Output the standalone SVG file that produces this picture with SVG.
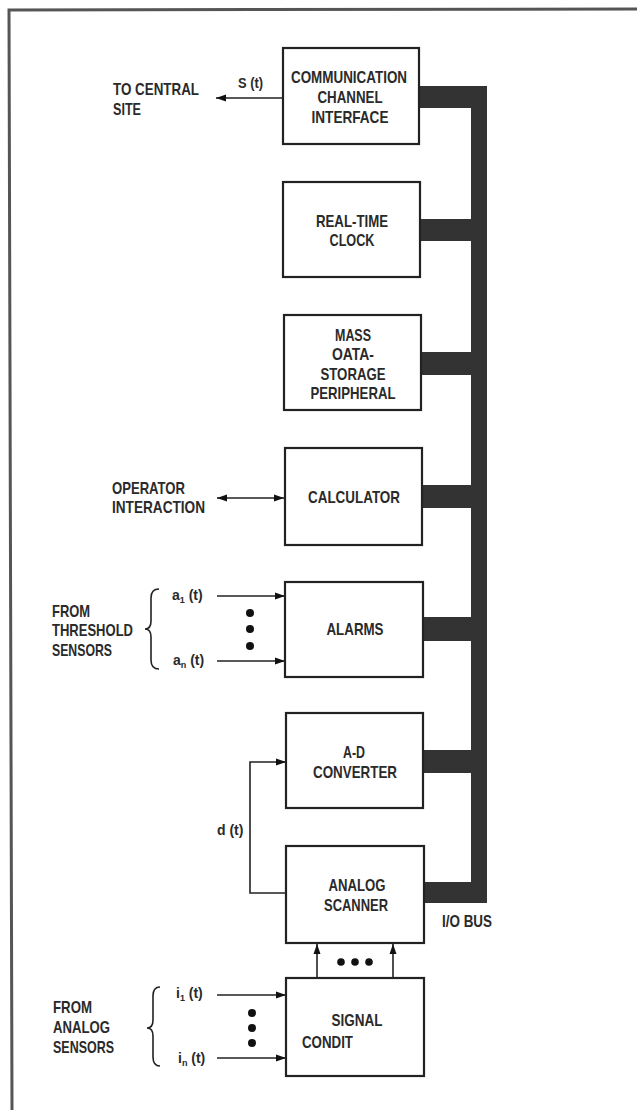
<svg xmlns="http://www.w3.org/2000/svg" width="637" height="1110" viewBox="0 0 637 1110">
<style>
.box{fill:#fff;stroke:#222;stroke-width:2.2}
.t{font-family:"Liberation Sans",Arial,sans-serif;font-size:17px;font-weight:bold;fill:#2a2a2a;text-anchor:middle}
.l{font-family:"Liberation Sans",Arial,sans-serif;font-size:17px;font-weight:bold;fill:#2a2a2a}
.s{font-family:"Liberation Sans",Arial,sans-serif;font-size:14px;font-weight:bold;fill:#2a2a2a}
.sub{font-size:9px}
.ln{fill:none;stroke:#222;stroke-width:1.6}
.bus{fill:#333}
.dot{fill:#111}
</style>
<defs>
<marker id="ah" viewBox="0 0 10 10" refX="10" refY="5" markerWidth="10" markerHeight="10" markerUnits="userSpaceOnUse" orient="auto-start-reverse">
<path d="M0,1.5 L10,5 L0,8.5 Z" fill="#111"/>
</marker>
</defs>
<path d="M12 1110 L9 10 L637 9" fill="none" stroke="#555" stroke-width="3"/>

<g id="bus">
<rect class="bus" x="471" y="86" width="16" height="817"/>
<rect class="bus" x="419" y="86" width="60" height="22"/>
<rect class="bus" x="420" y="219" width="60" height="22"/>
<rect class="bus" x="421" y="352" width="60" height="23"/>
<rect class="bus" x="422" y="485" width="60" height="23"/>
<rect class="bus" x="423" y="617" width="60" height="24"/>
<rect class="bus" x="423" y="750" width="60" height="23"/>
<rect class="bus" x="424" y="882" width="60" height="21"/>
<text class="l" x="442" y="927" textLength="50" lengthAdjust="spacingAndGlyphs">I/O BUS</text>
</g>

<g id="connectors">
<line class="ln" x1="283" y1="98" x2="216" y2="98" marker-end="url(#ah)"/>
<text class="s" x="238" y="88" textLength="25" lengthAdjust="spacingAndGlyphs">S (t)</text>
<line class="ln" x1="217" y1="498" x2="284" y2="498" marker-start="url(#ah)" marker-end="url(#ah)"/>
<line class="ln" x1="217" y1="596" x2="285" y2="596" marker-end="url(#ah)"/>
<line class="ln" x1="217" y1="661" x2="285" y2="661" marker-end="url(#ah)"/>
<path class="ln" d="M286 893 L250 893 L250 762 L286 762" marker-end="url(#ah)"/>
<text class="s" x="217" y="835">d (t)</text>
<line class="ln" x1="317" y1="978" x2="317" y2="944" marker-end="url(#ah)"/>
<line class="ln" x1="393" y1="978" x2="393" y2="944" marker-end="url(#ah)"/>
<line class="ln" x1="217" y1="995" x2="286" y2="995" marker-end="url(#ah)"/>
<line class="ln" x1="217" y1="1058" x2="286" y2="1058" marker-end="url(#ah)"/>
</g>

<g id="central-site">
<text class="l" x="113" y="95" textLength="86" lengthAdjust="spacingAndGlyphs">TO CENTRAL</text>
<text class="l" x="113" y="115" textLength="28" lengthAdjust="spacingAndGlyphs">SITE</text>
</g>

<g id="comm">
<rect class="box" x="283" y="48" width="136" height="96"/>
<text class="t" x="349" y="83" textLength="116" lengthAdjust="spacingAndGlyphs">COMMUNICATION</text>
<text class="t" x="350" y="103" textLength="65" lengthAdjust="spacingAndGlyphs">CHANNEL</text>
<text class="t" x="350" y="123" textLength="77" lengthAdjust="spacingAndGlyphs">INTERFACE</text>
</g>

<g id="clock">
<rect class="box" x="283" y="182" width="137" height="95"/>
<text class="t" x="352" y="227" textLength="72" lengthAdjust="spacingAndGlyphs">REAL-TIME</text>
<text class="t" x="352" y="246" textLength="45" lengthAdjust="spacingAndGlyphs">CLOCK</text>
</g>

<g id="mass">
<rect class="box" x="284" y="315" width="137" height="95"/>
<text class="t" x="353" y="341" textLength="36" lengthAdjust="spacingAndGlyphs">MASS</text>
<text class="t" x="353" y="360" textLength="42" lengthAdjust="spacingAndGlyphs">OATA-</text>
<text class="t" x="353" y="380" textLength="65" lengthAdjust="spacingAndGlyphs">STORAGE</text>
<text class="t" x="353" y="399" textLength="85" lengthAdjust="spacingAndGlyphs">PERIPHERAL</text>
</g>

<g id="operator">
<text class="l" x="112" y="494" textLength="73" lengthAdjust="spacingAndGlyphs">OPERATOR</text>
<text class="l" x="112" y="513" textLength="93" lengthAdjust="spacingAndGlyphs">INTERACTION</text>
</g>

<g id="calculator">
<rect class="box" x="285" y="448" width="137" height="97"/>
<text class="t" x="354" y="503" textLength="92" lengthAdjust="spacingAndGlyphs">CALCULATOR</text>
</g>

<g id="threshold">
<text class="l" x="52" y="617" textLength="38" lengthAdjust="spacingAndGlyphs">FROM</text>
<text class="l" x="52" y="636" textLength="81" lengthAdjust="spacingAndGlyphs">THRESHOLD</text>
<text class="l" x="52" y="656" textLength="60" lengthAdjust="spacingAndGlyphs">SENSORS</text>
<path class="ln" d="M159 589 Q151 589 151 598 L151 621 Q151 629 145 629 Q151 629 151 637 L151 660 Q151 669 159 669" stroke-width="2"/>
<text class="s" x="172" y="600">a<tspan class="sub" dy="3">1</tspan><tspan dy="-3"> (t)</tspan></text>
<text class="s" x="173" y="665">a<tspan class="sub" dy="3">n</tspan><tspan dy="-3"> (t)</tspan></text>
<circle class="dot" cx="250" cy="613" r="4"/>
<circle class="dot" cx="250" cy="629" r="4"/>
<circle class="dot" cx="250" cy="646" r="4"/>
</g>

<g id="alarms">
<rect class="box" x="285" y="582" width="138" height="95"/>
<text class="t" x="355" y="635" textLength="57" lengthAdjust="spacingAndGlyphs">ALARMS</text>
</g>

<g id="adc">
<rect class="box" x="286" y="713" width="137" height="95"/>
<text class="t" x="354" y="758" textLength="22" lengthAdjust="spacingAndGlyphs">A-D</text>
<text class="t" x="355" y="778" textLength="84" lengthAdjust="spacingAndGlyphs">CONVERTER</text>
</g>

<g id="scanner">
<rect class="box" x="286" y="846" width="138" height="97"/>
<text class="t" x="357" y="891" textLength="57" lengthAdjust="spacingAndGlyphs">ANALOG</text>
<text class="t" x="356" y="911" textLength="64" lengthAdjust="spacingAndGlyphs">SCANNER</text>
<circle class="dot" cx="341" cy="962" r="3.8"/>
<circle class="dot" cx="355" cy="962" r="3.8"/>
<circle class="dot" cx="369" cy="962" r="3.8"/>
</g>

<g id="analog">
<text class="l" x="53" y="1013" textLength="39" lengthAdjust="spacingAndGlyphs">FROM</text>
<text class="l" x="53" y="1033" textLength="57" lengthAdjust="spacingAndGlyphs">ANALOG</text>
<text class="l" x="53" y="1053" textLength="61" lengthAdjust="spacingAndGlyphs">SENSORS</text>
<path class="ln" d="M160 987 Q153 987 153 996 L153 1020 Q153 1028 147 1028 Q153 1028 153 1036 L153 1057 Q153 1066 160 1066" stroke-width="2"/>
<text class="s" x="176" y="998">i<tspan class="sub" dy="3">1</tspan><tspan dy="-3"> (t)</tspan></text>
<text class="s" x="178" y="1063">i<tspan class="sub" dy="3">n</tspan><tspan dy="-3"> (t)</tspan></text>
<circle class="dot" cx="252" cy="1013" r="4"/>
<circle class="dot" cx="252" cy="1028" r="4"/>
<circle class="dot" cx="252" cy="1043" r="4"/>
</g>

<g id="signal">
<rect class="box" x="286" y="978" width="138" height="98"/>
<text class="t" x="357" y="1026" textLength="51" lengthAdjust="spacingAndGlyphs">SIGNAL</text>
<text class="l" x="302" y="1048" textLength="51" lengthAdjust="spacingAndGlyphs">CONDIT</text>
</g>
</svg>
